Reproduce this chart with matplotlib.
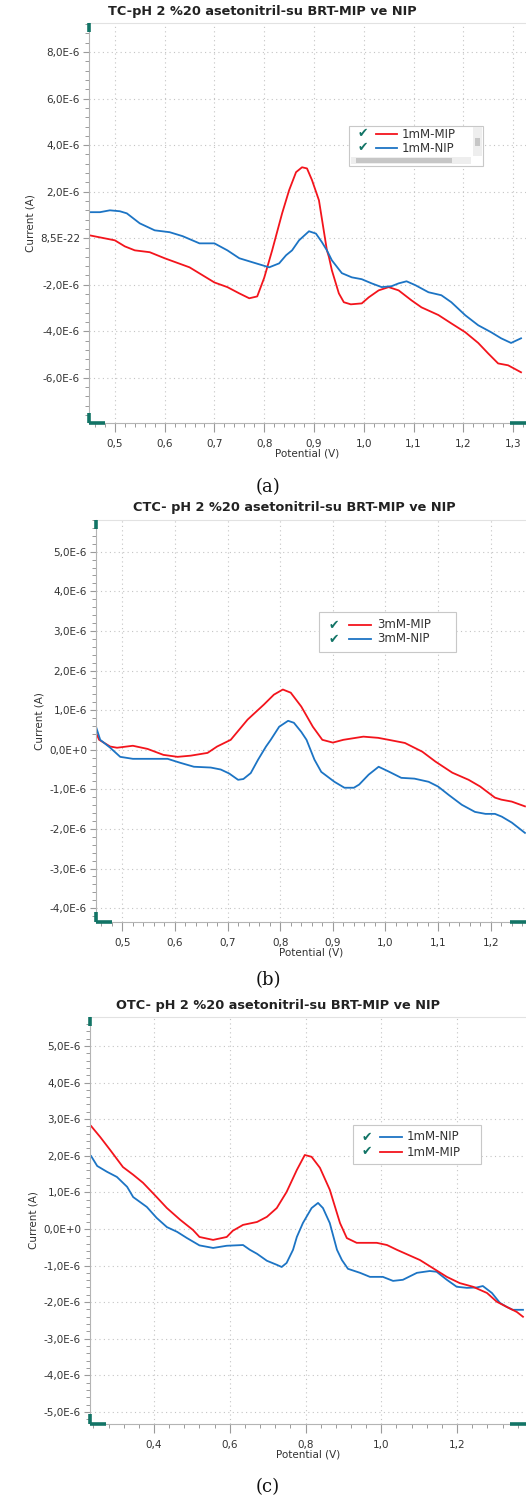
import matplotlib
matplotlib.use("Agg")
import matplotlib.pyplot as plt
from matplotlib.ticker import FixedLocator, FixedFormatter, MultipleLocator
from matplotlib.lines import Line2D
from matplotlib.patches import Rectangle

# ---- data (potential in V, current in 1E-6 A) ----
# (a) TC
a_mip_x = [0.448, 0.50, 0.52, 0.54, 0.57, 0.60, 0.65, 0.70, 0.726, 0.75, 0.77, 0.786, 0.80, 0.816,
           0.836, 0.85, 0.864, 0.876, 0.886, 0.896, 0.91, 0.926, 0.93, 0.936, 0.95, 0.96, 0.974,
           0.996, 1.01, 1.03, 1.05, 1.07, 1.096, 1.116, 1.15, 1.176, 1.204, 1.23, 1.25, 1.27, 1.29, 1.316]
a_mip_y = [0.13, -0.09, -0.35, -0.52, -0.6, -0.86, -1.25, -1.9, -2.1, -2.37, -2.58, -2.5, -1.7, -0.52,
           1.07, 2.06, 2.84, 3.05, 3.0, 2.5, 1.63, -0.52, -0.8, -1.38, -2.37, -2.75, -2.84,
           -2.8, -2.54, -2.24, -2.1, -2.24, -2.67, -2.97, -3.3, -3.66, -4.04, -4.5, -4.95, -5.38, -5.46, -5.76]
a_nip_x = [0.448, 0.47, 0.49, 0.51, 0.524, 0.55, 0.58, 0.61, 0.636, 0.67, 0.70, 0.726, 0.75, 0.776,
           0.81, 0.83, 0.844, 0.856, 0.87, 0.89, 0.904, 0.916, 0.926, 0.936, 0.956, 0.976, 0.996,
           1.016, 1.036, 1.056, 1.07, 1.086, 1.104, 1.13, 1.156, 1.176, 1.204, 1.23, 1.256, 1.276, 1.296, 1.316]
a_nip_y = [1.12, 1.12, 1.2, 1.16, 1.07, 0.64, 0.34, 0.26, 0.09, -0.22, -0.22, -0.52, -0.86, -1.03,
           -1.25, -1.08, -0.73, -0.52, -0.09, 0.3, 0.2, -0.17, -0.52, -0.95, -1.5, -1.68, -1.76,
           -1.94, -2.1, -2.06, -1.94, -1.85, -2.02, -2.32, -2.45, -2.75, -3.31, -3.74, -4.04, -4.3, -4.5, -4.3]
a_yticks = [-6, -4, -2, 0, 2, 4, 6, 8]
a_ylabels = ["-6,0E-6", "-4,0E-6", "-2,0E-6", "8,5E-22", "2,0E-6", "4,0E-6", "6,0E-6", "8,0E-6"]
a_xticks = [0.5, 0.6, 0.7, 0.8, 0.9, 1.0, 1.1, 1.2, 1.3]
a_xlabels = ["0,5", "0,6", "0,7", "0,8", "0,9", "1,0", "1,1", "1,2", "1,3"]

# (b) CTC
b_mip_x = [0.45, 0.456, 0.477, 0.49, 0.52, 0.548, 0.578, 0.605, 0.63, 0.662, 0.68, 0.706, 0.738,
           0.769, 0.788, 0.805, 0.82, 0.84, 0.862, 0.88, 0.90, 0.92, 0.958, 0.986, 1.006, 1.037,
           1.07, 1.095, 1.127, 1.158, 1.18, 1.208, 1.22, 1.24, 1.265]
b_mip_y = [0.43, 0.25, 0.08, 0.05, 0.1, 0.02, -0.13, -0.18, -0.15, -0.08, 0.08, 0.25, 0.76,
           1.14, 1.39, 1.52, 1.44, 1.09, 0.58, 0.25, 0.18, 0.25, 0.33, 0.3, 0.25, 0.17,
           -0.05, -0.3, -0.58, -0.76, -0.93, -1.21, -1.26, -1.31, -1.43]
b_nip_x = [0.45, 0.458, 0.477, 0.496, 0.52, 0.553, 0.586, 0.61, 0.636, 0.668, 0.687, 0.703, 0.72,
           0.73, 0.744, 0.758, 0.773, 0.782, 0.798, 0.815, 0.826, 0.84, 0.85, 0.865, 0.878, 0.903,
           0.922, 0.94, 0.95, 0.968, 0.987, 1.006, 1.03, 1.055, 1.082, 1.10, 1.12, 1.145, 1.17,
           1.19, 1.208, 1.221, 1.24, 1.265]
b_nip_y = [0.58, 0.25, 0.05, -0.18, -0.23, -0.23, -0.23, -0.33, -0.43, -0.45, -0.5, -0.6, -0.76,
           -0.74, -0.59, -0.25, 0.08, 0.25, 0.58, 0.73, 0.68, 0.45, 0.25, -0.25, -0.56, -0.81,
           -0.96, -0.96, -0.88, -0.63, -0.43, -0.55, -0.71, -0.73, -0.81, -0.93, -1.14, -1.39, -1.57,
           -1.62, -1.62, -1.69, -1.84, -2.1]
b_yticks = [-4, -3, -2, -1, 0, 1, 2, 3, 4, 5]
b_ylabels = ["-4,0E-6", "-3,0E-6", "-2,0E-6", "-1,0E-6", "0,0E+0", "1,0E-6", "2,0E-6", "3,0E-6", "4,0E-6", "5,0E-6"]
b_xticks = [0.5, 0.6, 0.7, 0.8, 0.9, 1.0, 1.1, 1.2]
b_xlabels = ["0,5", "0,6", "0,7", "0,8", "0,9", "1,0", "1,1", "1,2"]

# (c) OTC
c_mip_x = [0.234, 0.258, 0.284, 0.318, 0.345, 0.371, 0.407, 0.434, 0.469, 0.503, 0.52, 0.556,
           0.592, 0.608, 0.635, 0.672, 0.698, 0.724, 0.75, 0.777, 0.798, 0.816, 0.838, 0.864,
           0.891, 0.909, 0.935, 0.962, 0.988, 1.015, 1.041, 1.102, 1.136, 1.173, 1.207, 1.242,
           1.279, 1.305, 1.331, 1.358, 1.374]
c_mip_y = [2.81, 2.51, 2.16, 1.69, 1.48, 1.26, 0.87, 0.57, 0.25, -0.03, -0.22, -0.3,
           -0.22, -0.05, 0.11, 0.19, 0.33, 0.57, 1.01, 1.61, 2.02, 1.97, 1.67, 1.07,
           0.16, -0.25, -0.38, -0.38, -0.38, -0.44, -0.57, -0.85, -1.07, -1.31, -1.48, -1.58,
           -1.75, -1.99, -2.13, -2.27, -2.4]
c_nip_x = [0.234, 0.25, 0.276, 0.302, 0.329, 0.345, 0.381, 0.407, 0.434, 0.461, 0.487, 0.52,
           0.556, 0.592, 0.635, 0.653, 0.672, 0.698, 0.724, 0.737, 0.75, 0.767, 0.777, 0.793,
           0.816, 0.833, 0.846, 0.864, 0.883, 0.896, 0.912, 0.944, 0.97, 1.004, 1.031, 1.057,
           1.094, 1.128, 1.146, 1.173, 1.199, 1.226, 1.252, 1.268, 1.292, 1.313, 1.331, 1.347, 1.374]
c_nip_y = [1.99, 1.72, 1.56, 1.42, 1.15, 0.87, 0.6, 0.3, 0.05, -0.08, -0.25, -0.45,
           -0.52, -0.46, -0.44, -0.57, -0.68, -0.87, -0.98, -1.04, -0.93, -0.57, -0.22, 0.16,
           0.57, 0.71, 0.57, 0.16, -0.57, -0.85, -1.09, -1.2, -1.31, -1.31, -1.42, -1.39,
           -1.2, -1.15, -1.17, -1.39, -1.58, -1.61, -1.6, -1.56, -1.75, -2.02, -2.13, -2.21, -2.21]
c_yticks = [-5, -4, -3, -2, -1, 0, 1, 2, 3, 4, 5]
c_ylabels = ["-5,0E-6", "-4,0E-6", "-3,0E-6", "-2,0E-6", "-1,0E-6", "0,0E+0", "1,0E-6", "2,0E-6", "3,0E-6", "4,0E-6", "5,0E-6"]
c_xticks = [0.4, 0.6, 0.8, 1.0, 1.2]
c_xlabels = ["0,4", "0,6", "0,8", "1,0", "1,2"]

RED = "#f3141c"
BLUE = "#1c74c4"
TEAL = "#127466"
W, H = 526, 1503

fig = plt.figure(figsize=(W / 100, H / 100), dpi=100)


def px(x, y):
    # figure pixel (from top-left) to figure fraction
    return x / W, 1 - y / H


def make_axes(left, top, bottom):
    ax = fig.add_axes([left / W, 1 - bottom / H, (W - left) / W, (bottom - top) / H])
    ax.spines["right"].set_visible(False)
    ax.spines["top"].set_color("#e2e2e2")
    ax.spines["left"].set_color("#b4b4b4")
    ax.spines["bottom"].set_color("#b4b4b4")
    ax.grid(True, which="major", color="#c4c4c4", linestyle=(0, (1, 3)), linewidth=0.8)
    ax.tick_params(which="major", axis="y", length=4.5, width=0.8, color="#9a9a9a",
                   labelsize=7.5, labelcolor="#333333", pad=2)
    ax.tick_params(which="minor", axis="y", length=2.8, width=0.7, color="#9a9a9a")
    ax.tick_params(which="major", axis="x", length=6.5, width=0.8, color="#9a9a9a",
                   labelsize=7.5, labelcolor="#333333", pad=5)
    ax.tick_params(which="minor", axis="x", length=3, width=0.7, color="#9a9a9a")
    ax.set_xlabel("Potential (V)", fontsize=7.5, color="#333333", labelpad=0)
    ax.set_ylabel("Current (A)", fontsize=7.5, color="#333333", labelpad=3)
    return ax


def corner_marks(left, top, bottom):
    kw = dict(color=TEAL, linewidth=2.6, solid_capstyle="butt")
    fig.add_artist(Line2D(*zip(px(left, top), px(left, top + 9)), **kw))
    fig.add_artist(Line2D(*zip(px(left, bottom - 10), px(left, bottom)), **kw))
    fig.add_artist(Line2D(*zip(px(left, bottom), px(left + 16, bottom)), **kw))
    fig.add_artist(Line2D(*zip(px(510, bottom), px(W, bottom)), **kw))


def legend_box(x0, y0, x1, y1, entries, check_x, line_x0, line_x1, text_x, rows):
    bx, by = px(x0, y1)
    fig.add_artist(Rectangle((bx, by), (x1 - x0) / W, (y1 - y0) / H, transform=fig.transFigure,
                             facecolor="white", edgecolor="#c8c8c8", linewidth=0.8, zorder=5))
    for (label, color), ry in zip(entries, rows):
        fig.text(*px(check_x, ry), "\u2714", color=TEAL, fontsize=9, ha="center", va="center", zorder=6)
        fig.add_artist(Line2D(*zip(px(line_x0, ry), px(line_x1, ry)), color=color, linewidth=1.3, zorder=6))
        fig.text(*px(text_x, ry), label, color="#333333", fontsize=8.5, ha="left", va="center", zorder=6)


def setup(ax, xlim, ylim, xticks, xlabels, yticks, ylabels, xminor, yminor):
    ax.set_xlim(*xlim)
    ax.set_ylim(*ylim)
    ax.xaxis.set_major_locator(FixedLocator(xticks))
    ax.xaxis.set_major_formatter(FixedFormatter(xlabels))
    ax.yaxis.set_major_locator(FixedLocator(yticks))
    ax.yaxis.set_major_formatter(FixedFormatter(ylabels))
    ax.xaxis.set_minor_locator(MultipleLocator(xminor))
    ax.yaxis.set_minor_locator(MultipleLocator(yminor))


# ---- panel (a) ----
ax1 = make_axes(89, 23, 423)
ax1.plot(a_mip_x, a_mip_y, color=RED, linewidth=1.3)
ax1.plot(a_nip_x, a_nip_y, color=BLUE, linewidth=1.3)
setup(ax1, (0.448, 1.326), (-7.94, 9.25), a_xticks, a_xlabels, a_yticks, a_ylabels, 0.02, 0.4)
corner_marks(89, 23, 423)
legend_box(349, 126, 483, 166, [("1mM-MIP", RED), ("1mM-NIP", BLUE)],
           363, 376, 397, 402, [134, 148])
# scroll bars of the legend
fig.add_artist(Rectangle(px(473, 156), 9 / W, 29 / H, transform=fig.transFigure,
                         facecolor="#eeeeee", edgecolor="none", zorder=6))
fig.add_artist(Rectangle(px(475, 146), 5 / W, 8 / H, transform=fig.transFigure,
                         facecolor="#c6c6c6", edgecolor="none", zorder=7))
fig.add_artist(Rectangle(px(351, 164), 120 / W, 7 / H, transform=fig.transFigure,
                         facecolor="#eeeeee", edgecolor="none", zorder=6))
fig.add_artist(Rectangle(px(356, 163), 96 / W, 5 / H, transform=fig.transFigure,
                         facecolor="#c6c6c6", edgecolor="none", zorder=7))
fig.text(*px(262, 11), "TC-pH 2 %20 asetonitril-su BRT-MIP ve NIP", fontsize=9.3,
         fontweight="bold", color="#222222", ha="center", va="center")
fig.text(*px(268, 487), "(a)", fontsize=13, family="DejaVu Serif", color="#111111",
         ha="center", va="center")

# ---- panel (b) ----
ax2 = make_axes(96, 520, 922)
ax2.plot(b_mip_x, b_mip_y, color=RED, linewidth=1.3)
ax2.plot(b_nip_x, b_nip_y, color=BLUE, linewidth=1.3)
setup(ax2, (0.45, 1.267), (-4.35, 5.8), b_xticks, b_xlabels, b_yticks, b_ylabels, 0.02, 0.2)
corner_marks(96, 520, 922)
legend_box(319, 612, 456, 652, [("3mM-MIP", RED), ("3mM-NIP", BLUE)],
           334, 349, 371, 377, [625, 639])
fig.text(*px(294, 507), "CTC- pH 2 %20 asetonitril-su BRT-MIP ve NIP", fontsize=9.3,
         fontweight="bold", color="#222222", ha="center", va="center")
fig.text(*px(268, 980), "(b)", fontsize=13, family="DejaVu Serif", color="#111111",
         ha="center", va="center")

# ---- panel (c) ----
ax3 = make_axes(90, 1017, 1424)
ax3.plot(c_nip_x, c_nip_y, color=BLUE, linewidth=1.3)
ax3.plot(c_mip_x, c_mip_y, color=RED, linewidth=1.3)
setup(ax3, (0.231, 1.382), (-5.33, 5.79), c_xticks, c_xlabels, c_yticks, c_ylabels, 0.04, 0.2)
corner_marks(90, 1017, 1424)
legend_box(353, 1125, 481, 1164, [("1mM-NIP", BLUE), ("1mM-MIP", RED)],
           367, 380, 402, 407, [1137, 1152])
fig.text(*px(278, 1005), "OTC- pH 2 %20 asetonitril-su BRT-MIP ve NIP", fontsize=9.3,
         fontweight="bold", color="#222222", ha="center", va="center")
fig.text(*px(268, 1487), "(c)", fontsize=13, family="DejaVu Serif", color="#111111",
         ha="center", va="center")

fig.savefig("out.png", dpi=100)
